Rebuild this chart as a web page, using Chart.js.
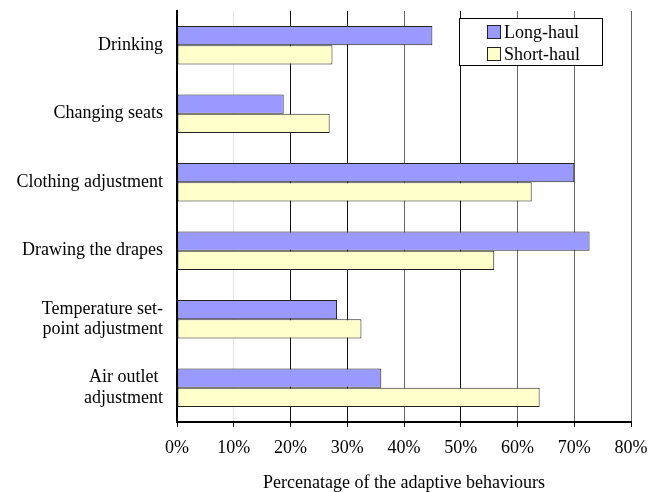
<!DOCTYPE html>
<html>
<head>
<meta charset="utf-8">
<script src="https://cdn.jsdelivr.net/npm/chart.js@4/dist/chart.umd.min.js"></script>
<style>
  html, body { margin: 0; padding: 0; background: #fff; }
  #wrap { width: 658px; height: 492px; }
</style>
</head>
<body>
<div id="wrap"><canvas id="c" width="658" height="492"></canvas></div>
<script>
// Adaptive behaviours reported by passengers on long- and short-haul flights (%)
const behaviours = [
  'Drinking',
  'Changing seats',
  'Clothing adjustment',
  'Drawing the drapes',
  ['Temperature set-', 'point adjustment'],
  ['Air outlet ', 'adjustment']
];
const longHaul  = [45.0, 18.8, 70.0, 72.7, 28.2, 36.0];
const shortHaul = [27.4, 26.9, 62.5, 55.9, 32.5, 63.9];
const seriesNames = ['Long-haul', 'Short-haul'];
const axisTitle = 'Percenatage of the adaptive behaviours';

const serif = "'Liberation Serif', 'Times New Roman', serif";

// Boxed legend drawn inside the plot, top-right
const boxLegend = {
  id: 'boxLegend',
  afterDraw(chart) {
    const ctx = chart.ctx;
    const x0 = 459.5, y0 = 18.5, w = 143, h = 47;
    ctx.save();
    ctx.fillStyle = '#fff';
    ctx.fillRect(x0, y0, w, h);
    ctx.strokeStyle = '#000';
    ctx.lineWidth = 1;
    ctx.strokeRect(x0, y0, w, h);
    ctx.font = '18px ' + serif;
    ctx.textBaseline = 'middle';
    ctx.textAlign = 'left';
    chart.data.datasets.forEach((ds, i) => {
      const cy = y0 + 13.5 + i * 22;
      ctx.fillStyle = ds.backgroundColor;
      ctx.fillRect(487.5, cy - 6.5, 13, 13);
      ctx.strokeStyle = '#222';
      ctx.strokeRect(487.5, cy - 6.5, 13, 13);
      ctx.fillStyle = '#000';
      ctx.fillText(ds.label, 504, cy + 1);
    });
    ctx.restore();
  }
};

new Chart(document.getElementById('c'), {
  type: 'bar',
  data: {
    labels: behaviours,
    datasets: [
      { label: seriesNames[0], data: longHaul,  backgroundColor: '#9999ff',
        borderColor: '#222222', borderWidth: 1, borderSkipped: false },
      { label: seriesNames[1], data: shortHaul, backgroundColor: '#ffffcc',
        borderColor: '#222222', borderWidth: 1, borderSkipped: false }
    ]
  },
  options: {
    indexAxis: 'y',
    responsive: false,
    animation: false,
    devicePixelRatio: 1,
    layout: { padding: { left: 0, top: 11, right: 27, bottom: 0 } },
    datasets: { bar: { categoryPercentage: 0.564, barPercentage: 1.0 } },
    plugins: { legend: { display: false }, tooltip: { enabled: false } },
    scales: {
      x: {
        min: 0, max: 80,
        afterFit(scale) { scale.height = 70; },
        ticks: {
          stepSize: 10,
          padding: 10,
          color: '#000',
          font: { family: serif, size: 18 },
          callback: v => v + '%'
        },
        grid: {
          color: c => {
            const v = c.tick ? c.tick.value : 0;
            if (v === 10) return '#e6e6e6';
            if (v === 20 || v === 30 || v === 50) return '#111';
            return '#666';
          },
          tickColor: '#000',
          tickLength: 5,
          lineWidth: 1
        },
        border: { display: true, color: '#000', width: 2 },
        title: {
          display: true,
          text: axisTitle,
          color: '#000',
          font: { family: serif, size: 18, lineHeight: 1 },
          padding: { top: 0, bottom: 0 }
        }
      },
      y: {
        afterFit(scale) {
          scale.width = 177;
          scale.paddingTop = 0;
          scale.paddingBottom = 0;
        },
        ticks: {
          padding: 14,
          color: '#000',
          font: { family: serif, size: 18, lineHeight: 1.15 }
        },
        grid: { display: false, drawTicks: false },
        border: { display: true, color: '#000', width: 2 }
      }
    }
  },
  plugins: [boxLegend]
});
</script>
</body>
</html>
